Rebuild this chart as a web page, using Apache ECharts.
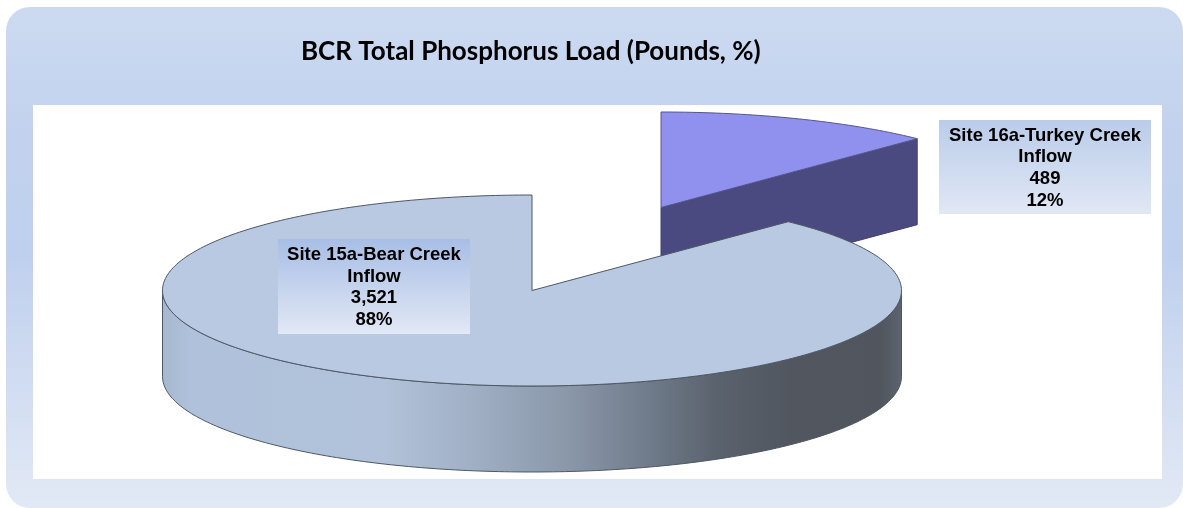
<!DOCTYPE html>
<html>
<head>
<meta charset="utf-8">
<style>html,body{margin:0;padding:0;background:#fff}#c{width:1183px;height:508px}</style>
<script src="https://cdn.jsdelivr.net/npm/echarts@6/dist/echarts.min.js"></script>
</head>
<body>
<div id="c"></div>
<script>
const titleText = 'BCR Total Phosphorus Load (Pounds, %)';
const categories = ['Site 16a-Turkey Creek\nInflow', 'Site 15a-Bear Creek\nInflow'];
const loads = [489, 3521];
const percents = ['12%', '88%'];

const total = loads.reduce((a, b) => a + b, 0);
const RX = 369.5, RY = 95.5, DEPTH = 86;
const centers = [[661, 207.5], [532, 290.5]];
const boxes = [[939, 120, 212, 94], [278, 239, 192, 95]];
const topFill = ['#9090EE', '#B8C9E1'];
const strokes = ['#3F4170', '#4E5766'];

function ellipsePt(c, t, dy) {
  return [c[0] + RX * Math.sin(t), c[1] - RY * Math.cos(t) + (dy || 0)];
}
function arcPts(c, a, b, dy) {
  const n = Math.max(2, Math.ceil(Math.abs(b - a) * 60));
  const out = [];
  for (let i = 0; i <= n; i++) out.push(ellipsePt(c, a + (b - a) * i / n, dy));
  return out;
}
const wallGradient = {
  type: 'linear', x: 0, y: 0, x2: 1, y2: 0,
  colorStops: [
    { offset: 0, color: '#A6B7CE' }, { offset: 0.04, color: '#B0C2DB' },
    { offset: 0.3, color: '#B1C2DA' }, { offset: 0.42, color: '#A0AFC4' },
    { offset: 0.55, color: '#8A97A9' }, { offset: 0.66, color: '#6F7B8A' },
    { offset: 0.75, color: '#5A626D' }, { offset: 0.85, color: '#51565F' },
    { offset: 0.97, color: '#50555E' }, { offset: 1, color: '#5E646D' }
  ]
};
const boxGradients = [
  { type: 'linear', x: 0, y: 0, x2: 0, y2: 1, colorStops: [{ offset: 0, color: '#BACCEA' }, { offset: 1, color: '#E1E8F5' }] },
  { type: 'linear', x: 0, y: 0, x2: 0, y2: 1, colorStops: [{ offset: 0, color: '#A8BEE5' }, { offset: 1, color: '#E2E8F5' }] }
];

function renderSlice(params, api) {
  const i = params.dataIndex;
  const c = centers[i];
  const sweep = api.value(0) / total * Math.PI * 2;
  const children = [];
  if (i === 0) {
    const edge = ellipsePt(c, sweep);
    children.push({
      type: 'polygon',
      shape: { points: [c, edge, [edge[0], edge[1] + DEPTH], [c[0], c[1] + DEPTH]] },
      style: { fill: '#4B4A80', stroke: strokes[0], lineWidth: 1 }
    });
    children.push({
      type: 'polygon',
      shape: { points: [c].concat(arcPts(c, 0, sweep)) },
      style: { fill: topFill[0], stroke: '#54568A', lineWidth: 1 }
    });
  } else {
    const start = Math.PI * 2 - sweep;
    const front = arcPts(c, Math.PI / 2, Math.PI * 1.5);
    const frontLow = arcPts(c, Math.PI * 1.5, Math.PI / 2, DEPTH);
    children.push({
      type: 'polygon',
      shape: { points: front.concat(frontLow) },
      style: { fill: wallGradient, stroke: strokes[1], lineWidth: 1 }
    });
    children.push({
      type: 'polygon',
      shape: { points: [c].concat(arcPts(c, start, Math.PI * 2)) },
      style: { fill: topFill[1], stroke: strokes[1], lineWidth: 1 }
    });
  }
  return { type: 'group', children };
}

function renderLabel(params, api) {
  const i = params.dataIndex;
  const b = boxes[i];
  const text = [categories[i], Number(api.value(0)).toLocaleString('en-US'), percents[i]].join('\n');
  return {
    type: 'group',
    children: [
      { type: 'rect', shape: { x: b[0], y: b[1], width: b[2], height: b[3] }, style: { fill: boxGradients[i] } },
      {
        type: 'text',
        style: {
          text, x: b[0] + b[2] / 2, y: b[1] + b[3] / 2 + 1,
          align: 'center', verticalAlign: 'middle',
          fontFamily: 'Liberation Sans', fontWeight: 'bold', fontSize: 18.5,
          lineHeight: 21.7, fill: '#000'
        }
      }
    ]
  };
}

const chart = echarts.init(document.getElementById('c'), null, { renderer: 'canvas' });
chart.setOption({
  animation: false,
  backgroundColor: '#fff',
  title: {
    text: titleText, left: 301, top: 39,
    textStyle: { fontFamily: 'Lato', fontWeight: 'bold', fontSize: 26, color: '#000' },
    padding: 0
  },
  graphic: [
    {
      type: 'rect', z: -10, silent: true,
      shape: { x: 6, y: 7, width: 1177, height: 501, r: 24 },
      style: {
        fill: {
          type: 'linear', x: 0, y: 0, x2: 0, y2: 1,
          colorStops: [
            { offset: 0, color: '#CCDAF1' }, { offset: 0.25, color: '#C2D2EE' },
            { offset: 0.5, color: '#BFD0EE' }, { offset: 1, color: '#E2E9F5' }
          ]
        }
      }
    },
    {
      type: 'rect', z: -9, silent: true,
      shape: { x: 33, y: 105, width: 1129, height: 374 },
      style: { fill: '#fff' }
    }
  ],
  series: [
    {
      type: 'custom', coordinateSystem: 'none', silent: true, z: 2,
      renderItem: renderSlice,
      data: loads.map((v, i) => ({ name: categories[i], value: [v] }))
    },
    {
      type: 'custom', coordinateSystem: 'none', silent: true, z: 3,
      renderItem: renderLabel,
      data: loads.map((v, i) => ({ name: categories[i], value: [v] }))
    }
  ]
});
</script>
</body>
</html>
